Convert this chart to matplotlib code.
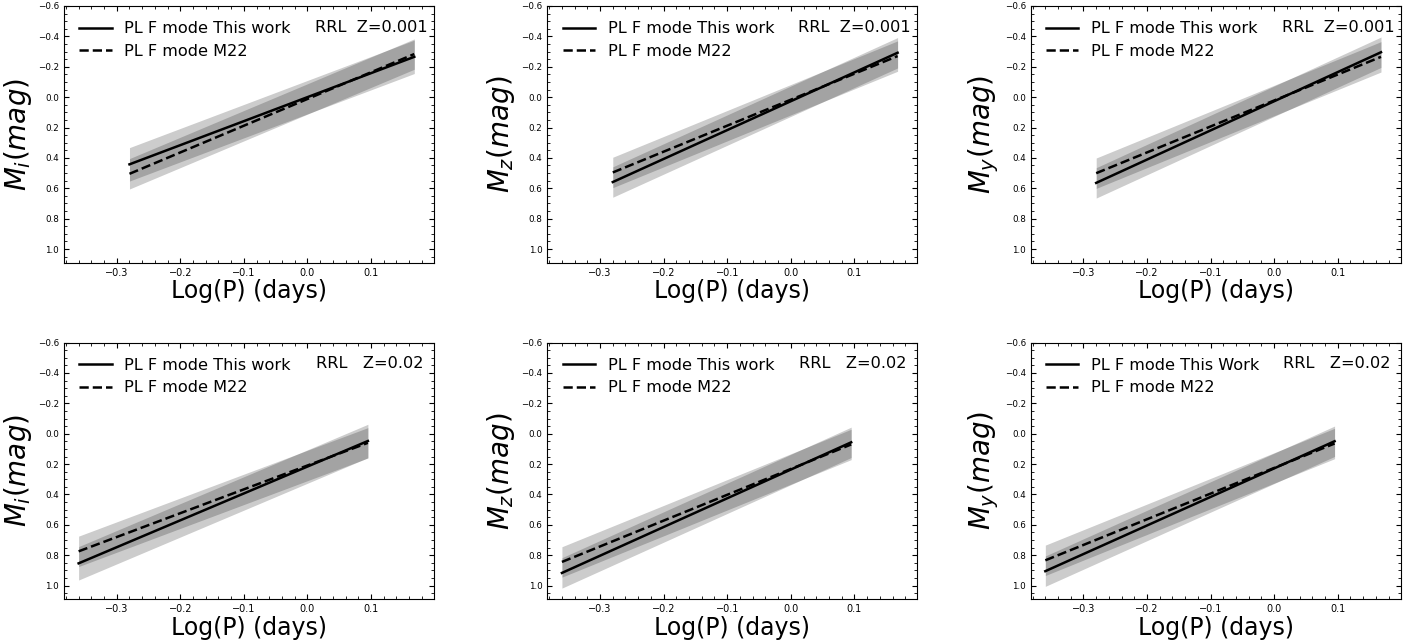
import numpy as np
import matplotlib
matplotlib.use("Agg")
import matplotlib.pyplot as plt
from matplotlib.ticker import AutoMinorLocator, MultipleLocator

# ---- data ----
bands = ["i", "z", "y"]
metallicities = ["0.001", "0.02"]
logp_range_Z001 = [-0.28, 0.168]
logp_range_Z002 = [-0.36, 0.095]

# PL relations  M = zp + slope * logP
zp_this_Z001 = [0.000, 0.027, 0.027]
slope_this_Z001 = [-1.58, -1.90, -1.92]
zp_m22_Z001 = [0.012, 0.017, 0.022]
slope_m22_Z001 = [-1.76, -1.71, -1.71]

zp_this_Z002 = [0.216, 0.236, 0.228]
slope_this_Z002 = [-1.77, -1.89, -1.88]
zp_m22_Z002 = [0.209, 0.232, 0.225]
slope_m22_Z002 = [-1.57, -1.70, -1.69]

sigma_this = [0.11, 0.10, 0.10]
sigma_m22 = [0.10, 0.10, 0.10]

legend_this_Z001 = ["PL F mode This work"] * 3
legend_this_Z002 = ["PL F mode This work", "PL F mode This work", "PL F mode This Work"]
legend_m22 = "PL F mode M22"
tag_Z001 = "RRL  Z=0.001"
tag_Z002 = "RRL   Z=0.02"

# ---- figure ----
fig = plt.figure(figsize=(14.18, 6.42), dpi=100)
lefts = [64 / 1418, 547.3 / 1418, 1030.7 / 1418]
width = 370 / 1418
bottoms = [1 - 262.7 / 642, 1 - 599.3 / 642]
height = 256.7 / 642
tag_x = [0.983, 0.972]

rows = [
    (logp_range_Z001, zp_this_Z001, slope_this_Z001, zp_m22_Z001, slope_m22_Z001, legend_this_Z001, tag_Z001),
    (logp_range_Z002, zp_this_Z002, slope_this_Z002, zp_m22_Z002, slope_m22_Z002, legend_this_Z002, tag_Z002),
]

for r, (lp_rng, zpt, slt, zpm, slm, leg_this, tag) in enumerate(rows):
    for c, band in enumerate(bands):
        ax = fig.add_axes([lefts[c], bottoms[r], width, height])
        lp = np.linspace(lp_rng[0], lp_rng[1], 100)
        m_this = zpt[c] + slt[c] * lp
        m_m22 = zpm[c] + slm[c] * lp
        ax.fill_between(lp, m_this - sigma_this[c], m_this + sigma_this[c],
                        color="k", alpha=0.2, lw=0)
        ax.fill_between(lp, m_m22 - sigma_m22[c], m_m22 + sigma_m22[c],
                        color="k", alpha=0.2, lw=0)
        ax.plot(lp, m_this, "k-", lw=1.8, label=leg_this[c])
        ax.plot(lp, m_m22, "k--", lw=1.8, label=legend_m22)

        ax.set_xlim(-0.383, 0.199)
        ax.set_ylim(1.09, -0.6)
        ax.xaxis.set_major_locator(MultipleLocator(0.1))
        ax.yaxis.set_major_locator(MultipleLocator(0.2))
        ax.xaxis.set_minor_locator(AutoMinorLocator())
        ax.yaxis.set_minor_locator(AutoMinorLocator())
        ax.tick_params(which="both", direction="in", top=True, right=True)
        ax.tick_params(axis="x", labelsize=7)
        ax.tick_params(axis="y", labelsize=6.3)
        ax.tick_params(which="major", length=3.5)
        ax.tick_params(which="minor", length=2)

        ax.set_xlabel("Log(P) (days)", fontsize=17, labelpad=1)
        ax.set_ylabel(r"$M_{%s}(mag)$" % band, fontsize=20, labelpad=3)

        ax.legend(loc="upper left", frameon=False, fontsize=11.6,
                  borderaxespad=0.55, handletextpad=0.8, labelspacing=0.45)
        ax.text(tag_x[r], 0.918, tag, transform=ax.transAxes, ha="right", va="center",
                fontsize=11.6)

fig.savefig("out.png", dpi=100)
